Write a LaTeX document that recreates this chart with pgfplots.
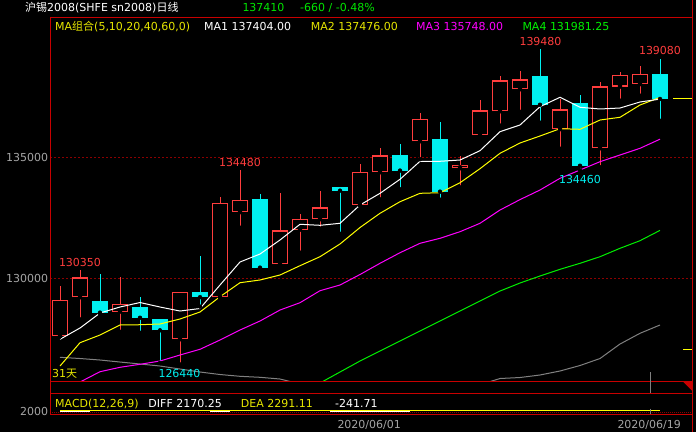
\documentclass[border=0pt]{standalone}
\usepackage{fontspec}
\setmainfont{DejaVu Sans}
\newfontfamily\cjk{Noto Sans CJK SC}
\usepackage{pgfplots}
\usepackage{pgfplotstable}
\pgfplotsset{compat=1.18}

\definecolor{upred}{RGB}{255,61,61}
\definecolor{dncyan}{RGB}{0,240,240}
\definecolor{frame}{RGB}{200,0,0}
\definecolor{gridred}{RGB}{140,0,0}
\definecolor{may}{RGB}{255,255,0}
\definecolor{mam}{RGB}{255,0,255}
\definecolor{mag}{RGB}{0,240,0}
\definecolor{magrey}{RGB}{128,128,128}
\definecolor{txtgrey}{RGB}{165,165,165}
\definecolor{txtgreen}{RGB}{0,230,0}
\definecolor{txtyel}{RGB}{230,230,0}
\newcommand\fs{\fontsize{11bp}{13bp}\selectfont}

% daily candles: index, open, high, low, close
\pgfplotstableread{
x open high low close
0 127600 129680 127600 129090
1 129215 130350 128300 130040
3 128620 130050 127790 128930
6 127480 129450 126440 129450
8 129215 133360 129215 133100
9 132730 134480 132090 133240
11 130580 133525 130580 131980
12 132010 132660 131060 132450
13 132440 133610 132050 132930
15 133020 134720 133020 134390
16 134380 135380 133265 135080
18 135660 136830 134920 136570
20 134545 135050 133760 134670
21 135910 137370 135810 136940
22 136900 138360 136310 138180
23 137810 138570 136880 138220
25 136160 137400 135355 136980
27 135370 138110 134590 137930
28 137920 138525 137340 138390
29 138020 138770 137545 138430
}\upc
\pgfplotstableread{
x open high low close
2 129060 130180 128540 128580
4 128810 129230 127750 128370
5 128300 128320 126500 127850
7 129420 130920 128830 129220
10 133280 133470 130310 130440
14 133770 133780 131840 133620
17 135080 135550 133680 134450
19 135760 136460 133250 133580
24 138360 139480 136430 137170
26 137240 137570 134460 134650
30 138440 139080 136510 137410
}\dnc

\begin{document}
\begin{tikzpicture}
\fill[black] (0,0) rectangle (696bp,-432bp);

% ---- price panel
\begin{axis}[
  at={(50bp,-381.7bp)}, anchor=south west,
  scale only axis, width=642bp, height=364.7bp,
  xmin=-0.5, xmax=31.6, ymin=125728, ymax=140797,
  axis line style={draw=none}, major tick length=0,
  xtick=\empty, ytick={130000,135000}, yticklabels={130000,135000},
  scaled y ticks=false,
  yticklabel style={font=\fs, text=txtgrey, inner sep=0pt, xshift=-1.7bp},
  ymajorgrids, grid style={gridred, line width=1bp, dash pattern=on 2bp off 2bp},
]
% up candles: wick, outline, hollow inside
\addplot[only marks, mark=none, error bars/.cd, y dir=plus, y explicit, error mark=none,
  error bar style={draw=upred, line width=1bp}]
  table[x=x, y=low, y error plus expr=\thisrow{high}-\thisrow{low}] {\upc};
\addplot[only marks, mark=none, error bars/.cd, y dir=plus, y explicit, error mark=none,
  error bar style={draw=upred, line width=16bp}]
  table[x=x, y=open, y error plus expr=\thisrow{close}-\thisrow{open}] {\upc};
\addplot[only marks, mark=none, error bars/.cd, y dir=plus, y explicit, error mark=none,
  error bar style={draw=black, line width=13.6bp}]
  table[x=x, y expr=\thisrow{open}+48, y error plus expr=\thisrow{close}-\thisrow{open}-96] {\upc};
% down candles
\addplot[only marks, mark=none, error bars/.cd, y dir=plus, y explicit, error mark=none,
  error bar style={draw=dncyan, line width=1bp}]
  table[x=x, y=low, y error plus expr=\thisrow{high}-\thisrow{low}] {\dnc};
\addplot[only marks, mark=none, error bars/.cd, y dir=plus, y explicit, error mark=none,
  error bar style={draw=dncyan, line width=16bp}]
  table[x=x, y=close, y error plus expr=\thisrow{open}-\thisrow{close}] {\dnc};

% moving averages
\addplot[magrey, line width=1bp] coordinates {(0,126736)(1,126686)(2,126624)(3,126541)(4,126459)(5,126376)(6,126252)(7,126129)(8,126025)(9,125951)(10,125910)(11,125839)(12,125633)(13,125400)(14,125400)(15,125400)(16,125400)(17,125400)(18,125400)(19,125400)(20,125400)(21,125603)(22,125860)(23,125901)(24,126005)(25,126170)(26,126397)(27,126686)(28,127285)(29,127728)(30,128071)};
\addplot[mag, line width=1bp] coordinates {(13,125674)(14,126129)(15,126583)(16,126996)(17,127410)(18,127823)(19,128236)(20,128649)(21,129062)(22,129475)(23,129806)(24,130095)(25,130372)(26,130620)(27,130893)(28,131240)(29,131554)(30,131981)};
\addplot[mam, line width=1bp] coordinates {(0,125302)(1,125715)(2,126141)(3,126323)(4,126447)(5,126583)(6,126831)(7,127067)(8,127451)(9,127864)(10,128236)(11,128690)(12,128992)(13,129488)(14,129723)(15,130157)(16,130620)(17,131058)(18,131446)(19,131653)(20,131926)(21,132273)(22,132822)(23,133252)(24,133649)(25,134132)(26,134475)(27,134818)(28,135095)(29,135372)(30,135748)};
\addplot[may, line width=1bp] coordinates {(0,126376)(1,127339)(2,127657)(3,128071)(4,128082)(5,128112)(6,128319)(7,128608)(8,129240)(9,129818)(10,129930)(11,130137)(12,130521)(13,130893)(14,131418)(15,132099)(16,132686)(17,133165)(18,133512)(19,133537)(20,133950)(21,134529)(22,135165)(23,135591)(24,135880)(25,136182)(26,136157)(27,136541)(28,136653)(29,137161)(30,137476)};
\addplot[white, line width=1bp] coordinates {(0,127480)(1,127947)(2,128566)(3,128814)(4,129000)(5,128814)(6,128649)(7,128752)(8,129723)(9,130674)(10,131004)(11,131583)(12,132232)(13,132190)(14,132273)(15,133029)(16,133512)(17,134091)(18,134835)(19,134835)(20,134888)(21,135273)(22,136058)(23,136335)(24,137091)(25,137479)(26,137066)(27,136996)(28,137037)(29,137285)(30,137404)};
% last-price ticks at the right
\addplot[may, line width=1bp] coordinates {(30.65,137410)(31.6,137410)};
\addplot[may, line width=1bp] coordinates {(31.15,127040)(31.6,127040)};
\end{axis}

% ---- MACD panel
\begin{axis}[
  at={(50bp,-414bp)}, anchor=south west,
  scale only axis, width=642bp, height=20.7bp,
  xmin=-0.5, xmax=31.6, ymin=1921, ymax=3991,
  axis line style={draw=none}, xtick=\empty, ytick=\empty,
]
\addplot[gridred, line width=1bp, dash pattern=on 1bp off 1bp] coordinates {(-0.5,2121)(31.6,2121)};
\addplot[may, line width=1bp] coordinates {(0,2291)(30,2291)};
\addplot[white, line width=1bp] coordinates {(0,2170)(1.5,2170)};
\addplot[white, line width=1bp] coordinates {(7.5,2170)(8.5,2170)};
\addplot[white, line width=1bp] coordinates {(13.5,2170)(17.5,2170)};
\end{axis}

\begin{scope}[x=1bp, y=-1bp]
% frame
\draw[frame, line width=1bp] (50,17.3) -- (692.3,17.3);
\draw[frame, line width=1bp] (50,17.3) -- (50,414);
\draw[frame, line width=1bp] (692.3,0) -- (692.3,432);
\draw[frame, line width=1bp] (50,381.7) -- (692.3,381.7);
\draw[frame, line width=1bp] (50,393.3) -- (692.3,393.3);
\draw[frame, line width=1bp] (50,414) -- (692.3,414);
\fill[frame] (683,381.7) -- (692.3,381.7) -- (692.3,391) -- cycle;
\draw[magrey, line width=1bp] (650.3,372) -- (650.3,393.3);
\draw[magrey, line width=1bp] (650.3,408.5) -- (650.3,414);

% header rows
\node[anchor=base west, inner sep=0, text=white, font=\fs] at (25,11.5) {{\cjk 沪锡}2008(SHFE sn2008){\cjk 日线}};
\node[anchor=base west, inner sep=0, text=txtgreen, font=\fs] at (242.3,11.5) {137410};
\node[anchor=base west, inner sep=0, text=txtgreen, font=\fs] at (300,11.5) {-660 / -0.48\%};
\node[anchor=base west, inner sep=0, text=txtyel, font=\fs] at (55,30.5) {MA{\cjk 组合}(5,10,20,40,60,0)};
\node[anchor=base west, inner sep=0, text=white, font=\fs] at (204,30.5) {MA1 137404.00};
\node[anchor=base west, inner sep=0, text=txtyel, font=\fs] at (310.7,30.5) {MA2 137476.00};
\node[anchor=base west, inner sep=0, text=mam, font=\fs] at (416,30.5) {MA3 135748.00};
\node[anchor=base west, inner sep=0, text=mag, font=\fs] at (522.3,30.5) {MA4 131981.25};

% extremes
\node[anchor=base, inner sep=0, text=upred, font=\fs] at (80,266) {130350};
\node[anchor=base, inner sep=0, text=upred, font=\fs] at (240,166) {134480};
\node[anchor=base, inner sep=0, text=upred, font=\fs] at (540.5,45.3) {139480};
\node[anchor=base, inner sep=0, text=upred, font=\fs] at (660,54) {139080};
\node[anchor=base, inner sep=0, text=dncyan, font=\fs] at (179.5,377.3) {126440};
\node[anchor=base, inner sep=0, text=dncyan, font=\fs] at (580,183.3) {134460};
\node[anchor=base west, inner sep=0, text=txtyel, font=\fs] at (52,377.3) {31{\cjk 天}};

% MACD row
\node[anchor=base west, inner sep=0, text=txtyel, font=\fs] at (55,407) {MACD(12,26,9)};
\node[anchor=base west, inner sep=0, text=white, font=\fs] at (148.3,407) {DIFF 2170.25};
\node[anchor=base west, inner sep=0, text=txtyel, font=\fs] at (240.7,407) {DEA 2291.11};
\node[anchor=base west, inner sep=0, text=white, font=\fs] at (335,407) {-241.71};
\node[anchor=base east, inner sep=0, text=txtgrey, font=\fs] at (48.3,415.5) {2000};

% dates
\node[anchor=base west, inner sep=0, text=txtgrey, font=\fs] at (337.3,428.5) {2020/06/01};
\node[anchor=base west, inner sep=0, text=txtgrey, font=\fs] at (617.3,428.5) {2020/06/19};
\end{scope}

\pgfresetboundingbox
\path (0,0) rectangle (696bp,-432bp);
\end{tikzpicture}
\end{document}
